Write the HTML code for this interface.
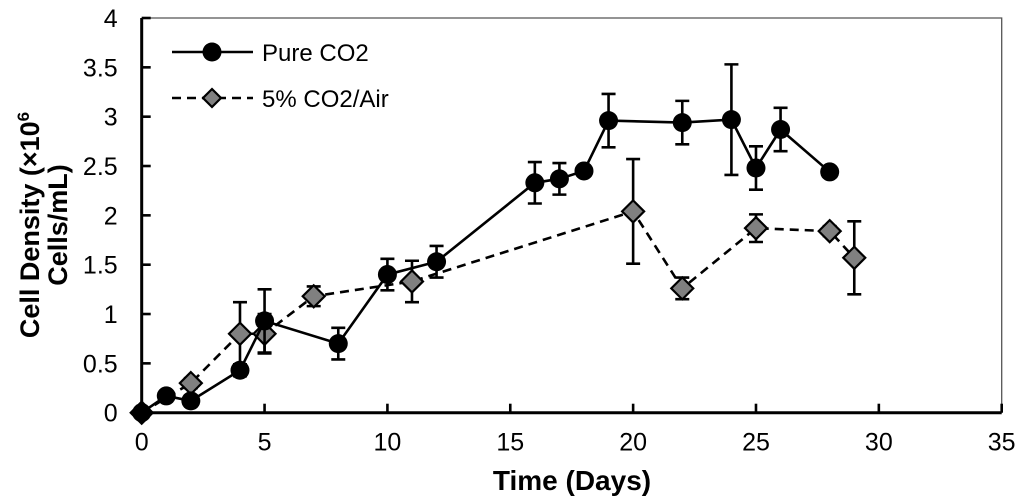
<!DOCTYPE html>
<html><head><meta charset="utf-8"><style>
html,body{margin:0;padding:0;background:#fff;}
svg{display:block;font-family:"Liberation Sans",sans-serif;}
</style></head><body>
<svg id="chart" width="1024" height="503" viewBox="0 0 1024 503"></svg>
<script>
const xTicks=[0,5,10,15,20,25,30,35];
const yTicks=[0,0.5,1,1.5,2,2.5,3,3.5,4];
const yTickLabels=["0","0.5","1","1.5","2","2.5","3","3.5","4"];
const pureDays=[0,1,2,4,5,8,10,12,16,17,18,19,22,24,25,26,28];
const pureVals=[0,0.17,0.12,0.43,0.93,0.70,1.40,1.53,2.33,2.37,2.45,2.96,2.94,2.97,2.48,2.87,2.44];
const pureErr=[0,0.03,0.03,0.06,0.32,0.16,0.16,0.16,0.21,0.16,0.05,0.27,0.22,0.56,0.22,0.22,0.05];
const airDays=[0,2,4,5,7,11,20,22,25,28,29];
const airVals=[0,0.30,0.80,0.80,1.18,1.33,2.04,1.26,1.87,1.84,1.57];
const airErr=[0,0.05,0.32,0.20,0.10,0.21,0.53,0.11,0.14,0.05,0.37];

const L=141.7,R=1001.7,T=18,B=412.7;
const X=v=>L+(R-L)*v/35, Y=v=>B-(B-T)*v/4;
const svg=document.getElementById('chart');
const NS='http://www.w3.org/2000/svg';
function mk(tag,attrs,parent){const e=document.createElementNS(NS,tag);for(const k in attrs)e.setAttribute(k,attrs[k]);(parent||svg).appendChild(e);return e;}

let e=mk('path',{d:`M${L},${T}H${R}V${B}`,stroke:'#555',fill:'none','stroke-width':1.3});


e=mk('path',{d:`M${L},${T}V${B}H${R}`,stroke:'#000',fill:'none','stroke-width':3});



xTicks.forEach(t=>{
  const l=mk('line',{x1:X(t),x2:X(t),y1:B,y2:B-9,stroke:'#000','stroke-width':2.6});
  
  
  const tx=mk('text',{x:X(t),y:B+38,'text-anchor':'middle','font-size':25});
  tx.textContent=t;
  
  
});
yTicks.forEach((t,i)=>{
  const l=mk('line',{x1:L,x2:L+9,y1:Y(t),y2:Y(t),stroke:'#000','stroke-width':2.6});
  
  
  const tx=mk('text',{x:L-24,y:Y(t)+9,'text-anchor':'end','font-size':25});
  tx.textContent=yTickLabels[i];
  
  
});

e=mk('text',{x:572,y:490,'text-anchor':'middle','font-size':28,'font-weight':'bold'});
e.textContent='Time (Days)';


const yt=mk('text',{transform:'translate(39,225) rotate(-90)','text-anchor':'middle','font-size':27,'font-weight':'bold'});


yt.innerHTML='<tspan x="0" dy="0">Cell Density (×10<tspan font-size="17" dy="-10">6</tspan></tspan><tspan x="0" dy="38">Cells/mL)</tspan>';

function series(days,vals,errs,name,dash,marker){
  const g=mk('g',{});
  
  
  const pts=days.map((d,i)=>X(d)+','+Y(vals[i])).join(' ');
  const pl=mk('polyline',{points:pts,fill:'none',stroke:'#000','stroke-width':2.6,'stroke-dasharray':dash},g);
  
  
  days.forEach((d,i)=>{
    if(errs[i]>0){
      const x=X(d),y1=Y(vals[i]-errs[i]),y2=Y(vals[i]+errs[i]);
      const eb=mk('path',{d:`M${x},${y1}V${y2}M${x-7},${y1}H${x+7}M${x-7},${y2}H${x+7}`,stroke:'#000','stroke-width':2.6,fill:'none'},g);
      
      
    }
  });
  days.forEach((d,i)=>{
    const m=marker(X(d),Y(vals[i]),g);
    
    
  });
}
const circ=(x,y,g)=>mk('circle',{cx:x,cy:y,r:9.5,fill:'#000'},g);
const diam=(x,y,g)=>mk('path',{d:`M${x},${y-11}L${x+11},${y}L${x},${y+11}L${x-11},${y}Z`,fill:'#808080',stroke:'#000','stroke-width':2.2},g);
series(airDays,airVals,airErr,'co2-air-series','9,6',diam);
series(pureDays,pureVals,pureErr,'pure-co2-series','',circ);

const lg=mk('g',{});


mk('line',{x1:172,x2:253,y1:52,y2:52,stroke:'#000','stroke-width':2.6},lg);
circ(212,52,lg);
let t1=mk('text',{x:262,y:61,'font-size':24},lg);t1.textContent='Pure CO2';


mk('line',{x1:172,x2:253,y1:98,y2:98,stroke:'#000','stroke-width':2.6,'stroke-dasharray':'9,6'},lg);
mk('path',{d:'M212,89L221,98L212,107L203,98Z',fill:'#808080',stroke:'#000','stroke-width':2.2},lg);
let t2=mk('text',{x:262,y:107,'font-size':24},lg);t2.textContent='5% CO2/Air';


</script>
</body></html>
